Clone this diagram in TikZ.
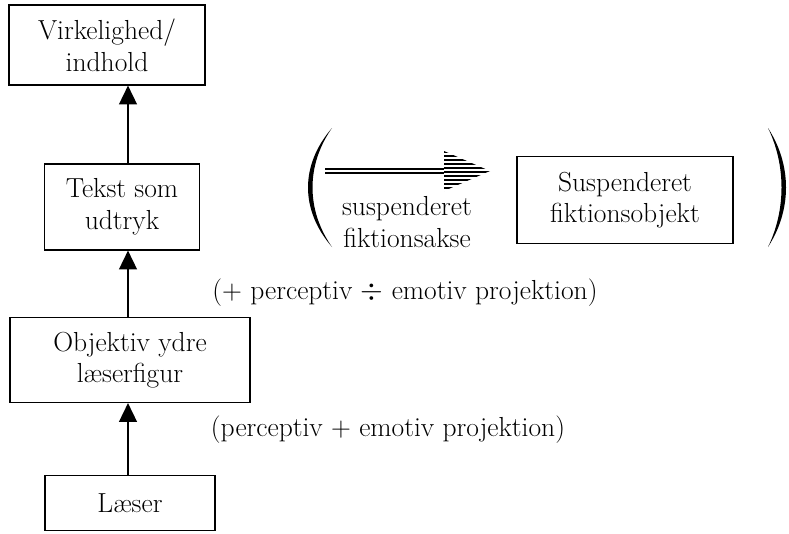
\documentclass[tikz,border=0pt]{standalone}
\usetikzlibrary{arrows.meta}

\tikzset{
  boks/.style={draw, line width=0.9pt, align=center, inner sep=0pt},
  pil/.style={line width=1.8pt, -{Triangle[width=15pt, length=16pt]}},
  tekst/.style={align=center}
}

\begin{document}
\begin{tikzpicture}[x=0.03cm, y=-0.03cm, every node/.style={font=\fontsize{23.5}{27}\selectfont}]
      \useasboundingbox (0,0) rectangle (789,533);
      % kasserne
      \node[boks, minimum width=5.88cm, minimum height=2.4cm] (virk) at (107,45) {Virkelighed/\\indhold};
      \node[boks, minimum width=4.65cm, minimum height=2.58cm] (tekst) at (122,207) {Tekst som\\udtryk};
      \node[boks, minimum width=7.2cm, minimum height=2.55cm] (objektiv) at (130,360) {Objektiv ydre\\læserfigur};
      \node[boks, minimum width=5.1cm, minimum height=1.65cm] (laeser) at (130,503) {Læser};
      \node[boks, minimum width=6.48cm, minimum height=2.61cm] (susp) at (625,200) {Suspenderet\\fiktionsobjekt};
      % pilene
      \coordinate (akse) at (128,0);
      \draw[pil] (laeser.north -| akse) -- (objektiv.south -| akse);
      \draw[pil] (objektiv.north -| akse) -- (tekst.south -| akse);
      \draw[pil] (tekst.north -| akse) -- (virk.south -| akse);
      % projektionerne
      \node[tekst] (proj1) at (405,293) {(+ perceptiv $\div$ emotiv projektion)};
      \node[tekst] (proj2) at (388,430) {(perceptiv + emotiv projektion)};
      % parentesen
      \fill (332,128) .. controls (300,165) and (300,210) .. (332,247)
                      .. controls (306,210) and (306,165) .. (332,128);
      \fill (768,128) .. controls (792,165) and (792,210) .. (768,247)
                      .. controls (786,210) and (786,165) .. (768,128);
      \coordinate (aksestart) at (325,171);
      \coordinate (aksehoved) at (444,171);
      \coordinate (akseslut) at (490,171);
      \draw[line width=1.1pt, double, double distance=2.5pt] (aksestart) -- (aksehoved);
      \begin{scope}
        \clip (444,151) -- (akseslut) -- (444,191) -- cycle;
        \foreach \y in {152,156,...,192}
          \draw[line width=1.2pt] (440,\y) -- (495,\y);
      \end{scope}
      \node[tekst] (fiktakse) at (407,222) {suspenderet\\fiktionsakse};
    \end{tikzpicture}
\end{document}
